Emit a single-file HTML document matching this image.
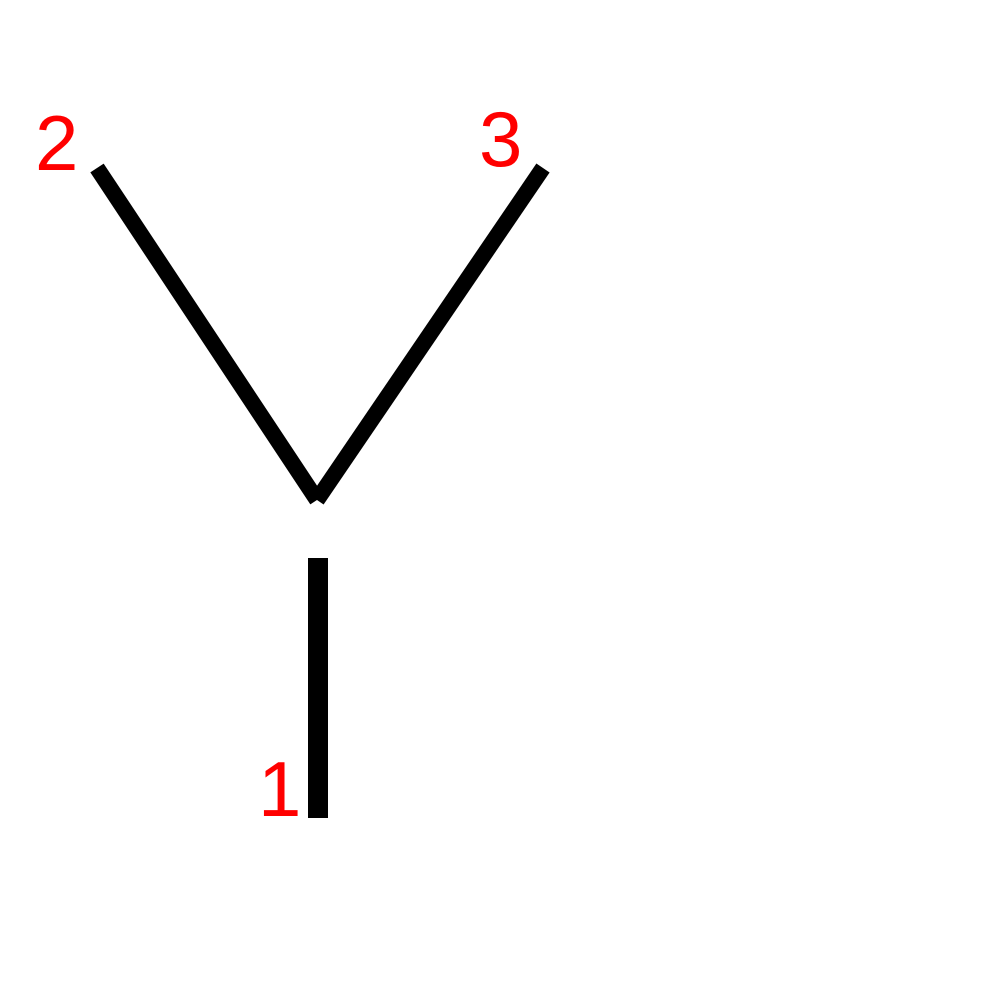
<!DOCTYPE html>
<html><head><meta charset="utf-8"><style>
html,body{margin:0;padding:0;background:#fff}
svg{display:block}
text{font-family:"Liberation Sans",sans-serif;font-size:78px;fill:#ff0000}
</style></head><body>
<svg id="chart" width="1000" height="1000" viewBox="0 0 1000 1000"></svg>
<script>
const nodeLabels = ["1","2","3"];
const nodeX = [318, 97, 543];
const nodeY = [818, 168, 168];
const rootX = 317, rootY = 500;
const ns = "http://www.w3.org/2000/svg";
const svg = document.getElementById('chart');
function mk(t, a){const e=document.createElementNS(ns,t);for(const k in a)e.setAttribute(k,a[k]);svg.appendChild(e);return e;}
const stem = mk('line',{x1:nodeX[0],y1:nodeY[0],x2:nodeX[0],y2:558,stroke:'#000','stroke-width':20});


for(let i=1;i<3;i++){
  const l = mk('line',{x1:nodeX[i],y1:nodeY[i],x2:rootX,y2:rootY,stroke:'#000','stroke-width':16});
  
  
}
const lblPos = [[258,816],[35,170],[479,166]];
for(let i=0;i<3;i++){
  const t = mk('text',{x:lblPos[i][0],y:lblPos[i][1]});
  t.textContent = nodeLabels[i];
  
  
}
</script>
</body></html>
